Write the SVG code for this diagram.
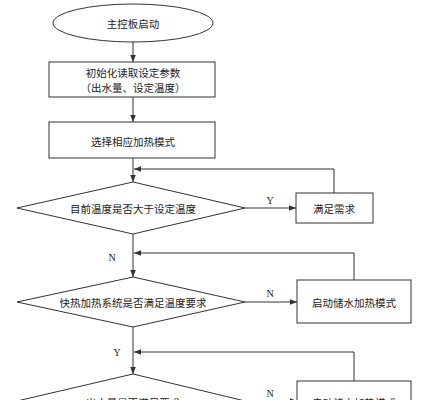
<svg xmlns="http://www.w3.org/2000/svg" width="423" height="400" viewBox="0 0 423 400">
<style>
.s{fill:#fff;stroke:#333;stroke-width:1}
.t{font-family:"Noto Sans CJK SC","Noto Sans",sans-serif;font-size:10.5px;fill:#222;text-anchor:middle;dominant-baseline:central}
.l{font-family:"Liberation Serif",serif;font-size:10px;fill:#222;text-anchor:middle;dominant-baseline:central}
.c{fill:none;stroke:#333;stroke-width:1}
</style>
<defs>
<marker id="a" viewBox="0 0 10 10" refX="10" refY="5" markerWidth="7" markerHeight="7" orient="auto" markerUnits="userSpaceOnUse">
<path d="M0,1 L10,5 L0,9 Z" fill="#333"/>
</marker>
</defs>
<rect width="423" height="400" fill="#fff"/>
<g id="connectors">
<line class="c" x1="133" y1="42" x2="133" y2="62" marker-end="url(#a)"/>
<line class="c" x1="133" y1="97" x2="133" y2="122" marker-end="url(#a)"/>
<line class="c" x1="133" y1="158" x2="133" y2="182" marker-end="url(#a)"/>
<polyline class="c" points="334,193 334,169 134,169" marker-end="url(#a)"/>
<line class="c" x1="245" y1="208" x2="296" y2="208" marker-end="url(#a)"/>
<line class="c" x1="133" y1="234" x2="133" y2="277" marker-end="url(#a)"/>
<polyline class="c" points="354,280 354,253 134,253" marker-end="url(#a)"/>
<line class="c" x1="245" y1="302" x2="297" y2="302" marker-end="url(#a)"/>
<line class="c" x1="133" y1="327" x2="133" y2="374" marker-end="url(#a)"/>
<polyline class="c" points="354,381 354,352 134,352" marker-end="url(#a)"/>
<line class="c" x1="245" y1="401" x2="297" y2="401" marker-end="url(#a)"/>
<text class="l" x="270" y="200">Y</text>
<text class="l" x="112" y="257">N</text>
<text class="l" x="270" y="293">N</text>
<text class="l" x="117" y="352">Y</text>
<text class="l" x="270" y="393">N</text>
</g>
<g id="start">
<ellipse class="s" cx="133" cy="23" rx="80" ry="19"/>
<text class="t" x="133" y="23">主控板启动</text>
</g>
<g id="init">
<rect class="s" x="49" y="62" width="166" height="35"/>
<text class="t" x="133" y="72">初始化读取设定参数</text>
<text class="t" x="133" y="87">（出水量、设定温度）</text>
</g>
<g id="mode">
<rect class="s" x="49" y="122" width="166" height="36"/>
<text class="t" x="133" y="141">选择相应加热模式</text>
</g>
<g id="d1">
<polygon class="s" points="133,182 245,208 133,234 17,208"/>
<text class="t" x="133" y="208">目前温度是否大于设定温度</text>
</g>
<g id="ok">
<rect class="s" x="296" y="193" width="77" height="30"/>
<text class="t" x="334" y="208">满足需求</text>
</g>
<g id="d2">
<polygon class="s" points="133,277 245,302 133,327 17,302"/>
<text class="t" x="133" y="302">快热加热系统是否满足温度要求</text>
</g>
<g id="store1">
<rect class="s" x="297" y="280" width="114" height="43"/>
<text class="t" x="354" y="302">启动储水加热模式</text>
</g>
<g id="d3">
<polygon class="s" points="133,374 245,401 133,428 17,401"/>
<text class="t" x="133" y="402">出水量是否满足要求</text>
</g>
<g id="store2">
<rect class="s" x="297" y="381" width="114" height="43"/>
<text class="t" x="354" y="402">启动储水加热模式</text>
</g>
</svg>
